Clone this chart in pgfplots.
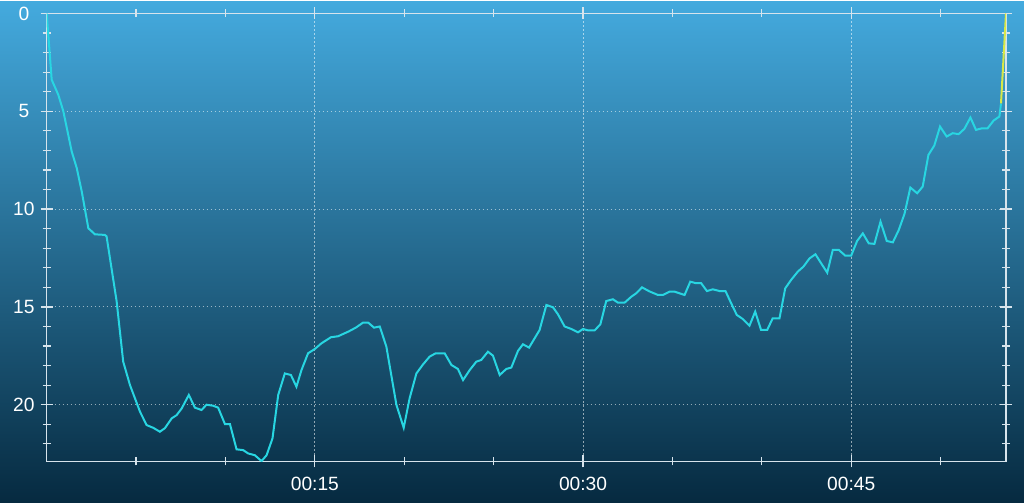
\documentclass[border=0pt]{standalone}
\usepackage{fontspec}
\setmainfont{Liberation Sans}
\usepackage{pgfplots}
\pgfplotsset{compat=1.18}
\definecolor{bgtop}{RGB}{68,170,222}
\definecolor{bgbot}{RGB}{6,42,64}
\definecolor{prof}{RGB}{40,214,226}
\definecolor{asc}{RGB}{215,232,70}
\definecolor{axc}{RGB}{215,228,236}
\begin{document}
\begin{tikzpicture}
\fill[top color=bgtop,bottom color=bgbot] (0pt,0pt) rectangle (512pt,250.5pt);
\begin{axis}[at={(23.35pt,20.5pt)}, anchor=south west, scale only axis,
 width=479.65pt, height=224pt,
 xmin=0, xmax=53.66, ymin=0, ymax=22.9, y dir=reverse,
 axis line style={axc, line width=0.75pt},
 xtick={15,30,45}, xticklabels={00:15,00:30,00:45},
 minor xtick={5,10,20,25,35,40,50},
 ytick={0,5,10,15,20},
 minor ytick={1,2,3,4,6,7,8,9,11,12,13,14,16,17,18,19,21,22},
 tick align=center, major tick length=6pt, minor tick length=4pt,
 tick style={axc, line width=0.6pt},
 grid=major, major grid style={white, opacity=0.55, line width=0.5pt, dash pattern=on 0.6pt off 1.4pt},
 ticklabel style={white, font=\fontsize{9.6}{11}\selectfont},
 /pgf/number format/assume math mode=true,
 yticklabel style={anchor=center},
 xticklabel style={anchor=center},
 yticklabel shift=8.4pt,
 xticklabel shift=8.25pt,
]
\addplot[prof, line width=1pt] coordinates {
(0,0) (0.28,3.39) (0.65,4.16) (0.93,5.0) (1.40,7.06) (1.68,7.9) (1.96,9.1) (2.33,10.98)
(2.70,11.29) (3.26,11.32) (3.35,11.4) (3.91,14.7) (4.28,17.8) (4.66,19.0) (5.22,20.36)
(5.59,21.04) (5.96,21.18) (6.33,21.38) (6.61,21.2) (6.99,20.7) (7.27,20.53) (7.55,20.19)
(7.95,19.5) (8.29,20.15) (8.66,20.27) (8.94,20.0) (9.31,20.05) (9.59,20.15) (9.97,20.99)
(10.25,20.99) (10.62,22.28) (10.99,22.32) (11.27,22.49) (11.64,22.58) (12.02,22.88)
(12.30,22.58) (12.63,21.72) (12.95,19.5) (13.32,18.4) (13.66,18.48) (13.97,19.08)
(14.25,18.23) (14.62,17.37) (15.0,17.15) (15.37,16.86) (15.9,16.55) (16.3,16.5)
(16.9,16.25) (17.29,16.06) (17.70,15.8) (17.98,15.8) (18.31,16.06) (18.63,16.0)
(19.0,17.03) (19.56,20.0) (19.97,21.18) (20.3,19.67) (20.68,18.4) (21.05,17.94)
(21.42,17.54) (21.76,17.37) (22.26,17.37) (22.64,17.97) (23.0,18.17) (23.29,18.74)
(23.66,18.23) (24.03,17.8) (24.31,17.71) (24.68,17.29) (24.96,17.49) (25.34,18.48)
(25.71,18.17) (25.99,18.1) (26.36,17.25) (26.64,16.91) (26.98,17.08) (27.57,16.18)
(27.95,14.9) (28.32,15.02) (28.60,15.38) (28.97,16.0) (29.35,16.13) (29.72,16.3)
(30.0,16.13) (30.28,16.2) (30.65,16.2) (30.97,15.89) (31.30,14.7) (31.67,14.61)
(31.95,14.78) (32.33,14.78) (32.70,14.48) (32.98,14.3) (33.30,14.0) (33.70,14.2)
(34.19,14.39) (34.47,14.39) (34.84,14.22) (35.12,14.22) (35.68,14.39) (36.0,13.71)
(36.33,13.79) (36.61,13.79) (36.93,14.19) (37.26,14.1) (37.64,14.19) (37.97,14.19)
(38.29,14.82) (38.60,15.41) (38.94,15.62) (39.31,15.96) (39.63,15.24) (39.96,16.18)
(40.30,16.18) (40.61,15.58) (40.99,15.58) (41.31,14.05) (41.64,13.62) (42.01,13.2)
(42.33,12.94) (42.67,12.52) (43.0,12.31) (43.32,12.77) (43.66,13.25) (43.97,12.09)
(44.31,12.09) (44.67,12.38) (45.0,12.38) (45.33,11.63) (45.65,11.24) (45.98,11.75)
(46.30,11.78) (46.64,10.64) (46.99,11.63) (47.33,11.7) (47.66,11.07) (47.98,10.25)
(48.31,8.9) (48.69,9.19) (49.0,8.85) (49.32,7.23) (49.65,6.75) (49.97,5.78)
(50.34,6.29) (50.68,6.12) (51.01,6.17) (51.33,5.9) (51.67,5.32) (51.98,5.95)
(52.32,5.87) (52.63,5.87) (52.97,5.47) (53.29,5.27) (53.38,4.6)
};
\addplot[asc, line width=1pt] coordinates {(53.38,4.6) (53.66,0)};
\end{axis}
\end{tikzpicture}
\end{document}
